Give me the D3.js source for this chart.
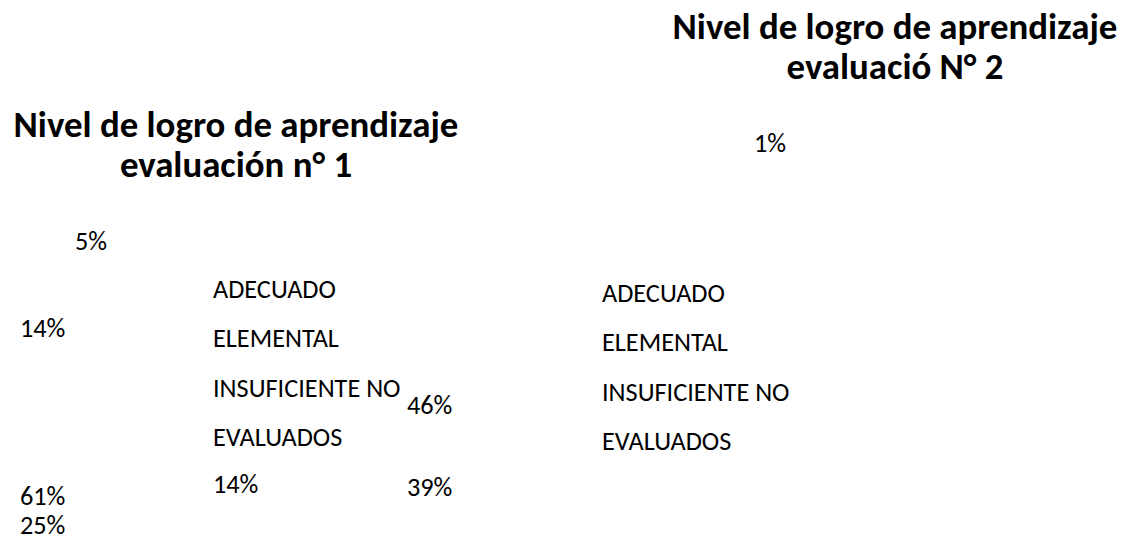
<!DOCTYPE html>
<html lang="es">
<head>
    <meta charset="UTF-8">
    <title>Nivel de logro de aprendizaje</title>
    <style>
        body {
            margin: 0;
            background: #ffffff;
            overflow: hidden;
        }
        svg text {
            font-family: Calibri, Carlito, Roboto, sans-serif;
            fill: #000000;
        }
        .title {
            font-weight: 700;
            text-anchor: middle;
        }
    </style>
</head>
<body>
    <script src="https://d3js.org/d3.v7.min.js"></script>
    <script>
        // categories as they came out of the legend (line breaks kept)
        const categories = ["ADECUADO", "ELEMENTAL", "INSUFICIENTE NO", "EVALUADOS"];

        // percentages shown on each chart
        const eval1Values = [5, 14, 61, 25];
        const eval2Values = [1, 14, 46, 39];

        const titles1 = ["Nivel de logro de aprendizaje", "evaluación n° 1"];
        const titles2 = ["Nivel de logro de aprendizaje", "evaluació N° 2"];

        // where each label landed in the original (left x, baseline y)
        const eval1LabelPos = [[75, 250], [20, 337], [20, 505], [20, 534]];
        const eval2LabelPos = [[754, 152], [213, 493], [407, 414], [407, 496]];

        const width = 1125, height = 537;

        const svg = d3.select("body").append("svg")
            .attr("width", width)
            .attr("height", height);

        // font size chosen so the widths match the reference
        function fitSize(str, bold, target) {
            const t = svg.append("text")
                .style("font-size", "100px")
                .style("font-weight", bold ? 700 : 400)
                .text(str);
            const w = t.node().getComputedTextLength();
            t.remove();
            return 100 * target / w;
        }
        const titleSize = fitSize(titles1[0], true, 445);
        const bodySize = fitSize("ADECUADO", false, 123);

        function drawTitle(lines, cx, y0) {
            svg.append("g").selectAll("text")
                .data(lines)
                .join("text")
                .attr("class", "title")
                .attr("x", cx)
                .attr("y", (d, i) => y0 + i * 40)
                .style("font-size", titleSize + "px")
                .text(d => d);
        }
        drawTitle(titles1, 236, 137);
        drawTitle(titles2, 895, 39);

        // legends (the swatches did not render in the original)
        const legendY = d3.scalePoint()
            .domain(categories)
            .range([0, 148]);

        function drawLegend(x, y0) {
            svg.append("g")
                .attr("transform", `translate(${x},${y0})`)
                .selectAll("text")
                .data(categories)
                .join("text")
                .attr("y", d => legendY(d))
                .style("font-size", bodySize + "px")
                .text(d => d);
        }
        drawLegend(213, 298);
        drawLegend(602, 302);

        // pie data: slices are white in the original so only the labels show
        const pie = d3.pie().sort(null);

        function drawLabels(values, pos) {
            const arcs = pie(values);
            svg.append("g").selectAll("text")
                .data(arcs)
                .join("text")
                .attr("x", (d, i) => pos[i][0])
                .attr("y", (d, i) => pos[i][1])
                .style("font-size", bodySize + "px")
                .text(d => d.data + "%");
        }
        drawLabels(eval1Values, eval1LabelPos);
        drawLabels(eval2Values, eval2LabelPos);
    </script>
</body>
</html>
